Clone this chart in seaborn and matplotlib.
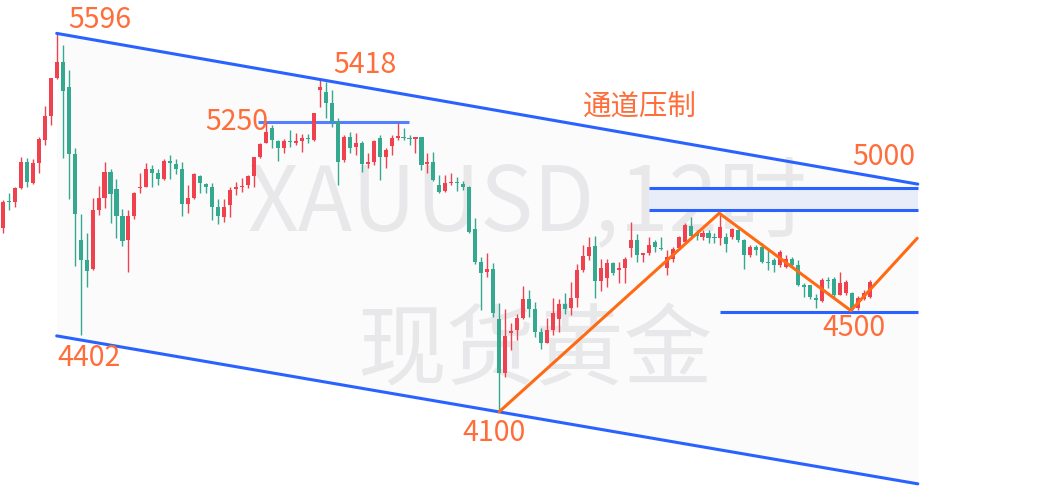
import numpy as np
import pandas as pd
import matplotlib
matplotlib.use("Agg")
import matplotlib.pyplot as plt
import seaborn as sns

# 1. 12小时K线数据 (XAUUSD)
opens = [4827, 4933, 4929, 4985, 5088, 5005, 5084, 5175, 5269, 5420,
         5483, 5384, 5119, 4779, 4700, 4665, 4898, 4945, 5048, 4981,
         4874, 4779, 4874, 4985, 4989, 5060, 5044, 5020, 5092, 5080,
         5060, 4922, 4945, 5032, 5001, 4989, 4910, 4870, 4918, 4981,
         4989, 4997, 5032, 5107, 5163, 5222, 5171, 5143, 5171, 5163,
         5171, 5182, 5175, 5372, 5364, 5321, 5246, 5096, 5186, 5147,
         5163, 5080, 5088, 5182, 5107, 5151, 5182, 5186, 5182, 5178,
         5186, 5080, 5088, 4997, 4973, 5005, 5009, 5001, 4989, 4823,
         4692, 4653, 4665, 4467, 4254, 4412, 4423, 4471, 4546, 4507,
         4416, 4372, 4423, 4467, 4526, 4510, 4550, 4661, 4716, 4756,
         4617, 4629, 4688, 4661, 4669, 4748, 4779, 4720, 4728, 4771,
         4748, 4669, 4704, 4748, 4771, 4835, 4807, 4791, 4807, 4791,
         4787, 4791, 4791, 4819, 4779, 4720, 4752, 4752, 4692, 4700,
         4680, 4672, 4704, 4680, 4601, 4601, 4550, 4538, 4621, 4625,
         4562, 4570, 4570, 4511, 4546, 4554]
highs = [4937, 4965, 4989, 5107, 5103, 5099, 5186, 5309, 5420, 5596,
         5550, 5451, 5143, 4882, 4807, 4945, 4993, 5088, 5060, 5020,
         4902, 4898, 4969, 5044, 5084, 5076, 5060, 5099, 5115, 5099,
         5088, 4997, 5044, 5036, 5005, 5005, 4941, 4941, 4989, 5009,
         5024, 5036, 5107, 5163, 5246, 5234, 5175, 5178, 5214, 5203,
         5199, 5199, 5281, 5418, 5404, 5372, 5262, 5194, 5206, 5203,
         5171, 5123, 5175, 5194, 5143, 5194, 5242, 5222, 5194, 5186,
         5186, 5123, 5127, 5036, 5036, 5044, 5028, 5012, 4993, 4866,
         4712, 4728, 4688, 4530, 4507, 4451, 4487, 4597, 4582, 4534,
         4431, 4471, 4550, 4546, 4570, 4613, 4684, 4760, 4791, 4795,
         4704, 4704, 4692, 4692, 4712, 4850, 4803, 4728, 4791, 4779,
         4791, 4740, 4752, 4795, 4846, 4870, 4819, 4819, 4819, 4807,
         4878, 4807, 4827, 4823, 4783, 4760, 4760, 4767, 4740, 4708,
         4740, 4720, 4712, 4700, 4609, 4601, 4566, 4629, 4633, 4633,
         4653, 4621, 4574, 4558, 4582, 4621]
lows = [4807, 4898, 4910, 4981, 4989, 5001, 5044, 5155, 5234, 5416,
        5103, 4941, 4676, 4402, 4593, 4660, 4878, 4906, 4846, 4787,
        4756, 4653, 4862, 4965, 4989, 4989, 4997, 5016, 5020, 5040,
        4874, 4886, 4941, 4965, 4965, 4858, 4842, 4850, 4870, 4957,
        4969, 4985, 4989, 5103, 5163, 5143, 5093, 5123, 5147, 5155,
        5128, 5163, 5171, 5305, 5262, 5226, 4997, 5088, 5123, 5115,
        5048, 5064, 5076, 5016, 5064, 5115, 5175, 5175, 5155, 5123,
        5056, 5044, 5012, 4965, 4969, 4997, 4973, 4977, 4807, 4684,
        4503, 4633, 4475, 4100, 4238, 4344, 4384, 4467, 4475, 4396,
        4348, 4372, 4404, 4416, 4487, 4483, 4514, 4653, 4700, 4550,
        4578, 4593, 4641, 4609, 4609, 4712, 4692, 4692, 4720, 4732,
        4740, 4641, 4692, 4740, 4767, 4787, 4779, 4779, 4767, 4767,
        4760, 4732, 4783, 4771, 4665, 4712, 4720, 4688, 4661, 4653,
        4672, 4669, 4672, 4597, 4554, 4546, 4511, 4534, 4590, 4554,
        4562, 4562, 4495, 4503, 4542, 4550]
closes = [4929, 4929, 4985, 5088, 5009, 5084, 5178, 5269, 5420, 5483,
          5368, 5119, 4882, 4700, 4657, 4898, 4945, 5048, 4961, 4874,
          4775, 4874, 4965, 4989, 5060, 5044, 5020, 5092, 5084, 5060,
          4922, 4945, 5040, 5005, 4989, 4910, 4874, 4910, 4977, 4989,
          4993, 5032, 5107, 5159, 5206, 5175, 5143, 5171, 5167, 5171,
          5182, 5178, 5281, 5384, 5321, 5246, 5088, 5186, 5143, 5163,
          5080, 5088, 5171, 5107, 5135, 5182, 5190, 5182, 5178, 5186,
          5076, 5088, 5016, 4969, 5005, 5009, 5005, 4989, 4811, 4692,
          4649, 4665, 4491, 4254, 4400, 4420, 4471, 4546, 4507, 4416,
          4372, 4423, 4491, 4526, 4507, 4550, 4661, 4716, 4752, 4617,
          4669, 4688, 4649, 4669, 4704, 4779, 4720, 4728, 4760, 4752,
          4744, 4712, 4744, 4791, 4839, 4795, 4795, 4807, 4787, 4787,
          4831, 4763, 4823, 4779, 4720, 4752, 4740, 4692, 4688, 4680,
          4732, 4704, 4680, 4601, 4593, 4554, 4542, 4621, 4617, 4562,
          4609, 4613, 4503, 4550, 4570, 4613]

# 2. 画线 (通道、水平线、折线)
channel_x = [9, 153]
channel_upper = [5596, 5000]
channel_lower = [4400, 3815]
line_5250_x = [42.7, 67.9]
line_5250_y = 5245
zone_x = [108, 153]
zone_low, zone_high = 4898, 4986
support_x = [119.9, 153]
support_y = 4495
zigzag_x = [83, 119.8, 141.8, 152.9]
zigzag_y = [4100, 4885, 4500, 4786]

# 3. 标注文字: (文字, x, 价格, 对齐)
labels = [("5596", 10.9, 5649, "left"),
          ("5418", 55.2, 5471, "left"),
          ("5250", 44.4, 5246, "right"),
          ("4402", 9.05, 4313, "left"),
          ("4100", 76.8, 4016, "left"),
          ("4500", 137.0, 4431, "left"),
          ("5000", 142.0, 5107, "left"),
          ("通道压制", 97.0, 5305, "left")]

df = pd.DataFrame({"open": opens, "high": highs, "low": lows, "close": closes})
df["idx"] = np.arange(len(df))
df["up"] = df["close"] >= df["open"]

sns.set_theme(style="white")
plt.rcParams["font.family"] = ["Noto Sans CJK SC", "DejaVu Sans"]

RED = "#f0414f"
GREEN = "#34a98f"
BLUE = "#2962ff"
ORANGE = "#ff6a14"
TXT = "#ff6d3a"

fig = plt.figure(figsize=(10.38, 4.98), dpi=100)
ax = fig.add_axes([0, 0, 1, 1])
ax.set_xlim(-0.48, 173.1)
ax.set_ylim(3759, 5728)
ax.set_axis_off()

# 通道底色
ax.fill_between(channel_x, channel_lower, channel_upper, color="#fbfbfb", lw=0, zorder=0)

# 水印
ax.text(0.508, 0.588, "XAUUSD,12时", transform=ax.transAxes, ha="center", va="center",
        fontsize=64, color="#e8e8ea", zorder=1)
ax.text(0.515, 0.29, "现货黄金", transform=ax.transAxes, ha="center", va="center",
        fontsize=64, color="#e8e8ea", zorder=1)

# 阻力区
ax.fill_between(zone_x, zone_low, zone_high, color="#e9edf9", lw=0, zorder=1)

# 5250 水平线 (在K线下面)
ax.hlines(line_5250_y, line_5250_x[0], line_5250_x[1], color=BLUE, lw=2.2, alpha=0.8, zorder=1.5)

# K线
colors = np.where(df["up"], RED, GREEN)
ax.vlines(df["idx"], df["low"], df["high"], colors=colors, lw=1.0, zorder=2)
body_bottom = np.minimum(df["open"], df["close"])
body_h = np.maximum((df["close"] - df["open"]).abs(), 4)
ax.bar(df["idx"], body_h, bottom=body_bottom, width=0.68, color=colors, lw=0, zorder=2.5)

# 通道线
sns.lineplot(x=channel_x, y=channel_upper, ax=ax, color=BLUE, lw=2.2, zorder=3)
sns.lineplot(x=channel_x, y=channel_lower, ax=ax, color=BLUE, lw=2.2, zorder=3)
ax.hlines([zone_low, zone_high], zone_x[0], zone_x[1], color=BLUE, lw=2.2, zorder=3)
ax.hlines(support_y, support_x[0], support_x[1], color=BLUE, lw=2.2, zorder=3)

# 折线
sns.lineplot(x=zigzag_x, y=zigzag_y, ax=ax, sort=False, estimator=None,
             color=ORANGE, lw=2.2, zorder=4)

for txt, x, y, ha in labels:
    ax.text(x, y, txt, ha=ha, va="center", fontsize=20.5, color=TXT, zorder=5)

fig.savefig("out.png", dpi=100)
